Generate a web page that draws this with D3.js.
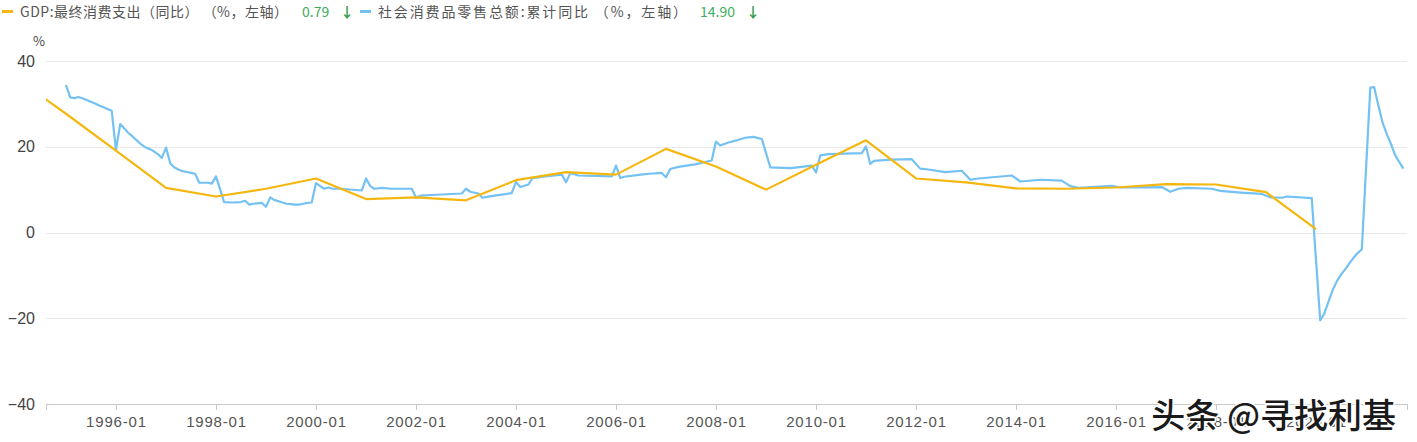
<!DOCTYPE html>
<html>
<head>
<meta charset="utf-8">
<title>GDP最终消费支出 vs 社会消费品零售总额</title>
<style>
  body { margin: 0; background: #fff; }
  svg { display: block; font-family: "Noto Sans CJK SC", "Microsoft YaHei", sans-serif; }
  .grid line { stroke: #e9e9e9; shape-rendering: crispEdges; }
  .axis--x path, .axis--x line { stroke: #c8c8c8; shape-rendering: crispEdges; }
  .axis text { fill: #555; }
  .axis--y path, .axis--y line { display: none; }
  .legend text { font-size: 14px; fill: #555; }
</style>
</head>
<body>
<svg width="1417" height="442"></svg>
<script src="https://cdn.jsdelivr.net/npm/d3@7"></script>
<script>
// annual GDP final consumption expenditure, YoY %
var gdpYears = [1994, 1995, 1996, 1997, 1998, 1999, 2000, 2001, 2002, 2003, 2004, 2005, 2006, 2007,
  2008, 2009, 2010, 2011, 2012, 2013, 2014, 2015, 2016, 2017, 2018, 2019, 2020];
var gdpValues = [36.0, 27.7, 19.1, 10.4, 8.4, 10.2, 12.6, 7.8, 8.2, 7.5, 12.2, 14.1, 13.5, 19.5,
  15.4, 10.0, 15.8, 21.5, 12.6, 11.7, 10.3, 10.2, 10.5, 11.3, 11.2, 9.4, 0.79];

// retail sales, cumulative YoY %
var retailDates = ["1995-01", "1995-02", "1995-03", "1995-04", "1995-05", "1995-06", "1995-07", "1995-08",
  "1995-09", "1995-10", "1995-12", "1996-01", "1996-02", "1996-03", "1996-04", "1996-05", "1996-06",
  "1996-07", "1996-08", "1996-09", "1996-10", "1996-11", "1996-12", "1997-01", "1997-02", "1997-03",
  "1997-04", "1997-05", "1997-06", "1997-07", "1997-08", "1997-09", "1997-10", "1997-11", "1997-12",
  "1998-01", "1998-03", "1998-05", "1998-07", "1998-08", "1998-09", "1998-10", "1998-11", "1998-12",
  "1999-01", "1999-02", "1999-03", "1999-05", "1999-06", "1999-07", "1999-08", "1999-09", "1999-10",
  "1999-11", "1999-12", "2000-01", "2000-02", "2000-03", "2000-04", "2000-05", "2000-07", "2000-12",
  "2001-01", "2001-02", "2001-03", "2001-05", "2001-07", "2001-12", "2002-01", "2002-02", "2002-06",
  "2002-12", "2003-01", "2003-02", "2003-04", "2003-05", "2003-06", "2003-12", "2004-01", "2004-02",
  "2004-04", "2004-05", "2004-08", "2004-12", "2005-01", "2005-02", "2005-04", "2005-12", "2006-01",
  "2006-02", "2006-03", "2006-07", "2006-09", "2006-12", "2007-01", "2007-02", "2007-04", "2007-08",
  "2007-12", "2008-01", "2008-02", "2008-04", "2008-06", "2008-08", "2008-10", "2008-12", "2009-02",
  "2009-07", "2009-12", "2010-01", "2010-02", "2010-04", "2010-12", "2011-01", "2011-02", "2011-03",
  "2011-07", "2011-12", "2012-02", "2012-04", "2012-08", "2012-12", "2013-02", "2013-04", "2013-12",
  "2014-02", "2014-07", "2014-12", "2015-02", "2015-04", "2015-12", "2016-02", "2016-12", "2017-02",
  "2017-04", "2017-06", "2017-12", "2018-02", "2018-07", "2018-12", "2019-02", "2019-05", "2019-06",
  "2019-12", "2020-02", "2020-03", "2020-04", "2020-05", "2020-06", "2020-07", "2020-08", "2020-09",
  "2020-10", "2020-11", "2020-12", "2021-02", "2021-03", "2021-04", "2021-05", "2021-06", "2021-07",
  "2021-08", "2021-09", "2021-10"];
var retailValues = [34.4, 31.5, 31.3, 31.6, 31.3, 30.9, 30.5, 30.1,
  29.6, 29.2, 28.4, 19.2, 25.3, 24.3, 23.2, 22.4, 21.5,
  20.6, 19.9, 19.5, 19.0, 18.3, 17.4, 19.8, 16.1, 15.2,
  14.7, 14.3, 14.1, 13.9, 13.7, 11.6, 11.6, 11.6, 11.4,
  13.1, 7.1, 7.0, 7.1, 7.4, 6.5, 6.7, 6.8, 6.9,
  6.0, 8.2, 7.6, 7.0, 6.7, 6.6, 6.5, 6.5, 6.7,
  6.9, 7.0, 11.5, 10.8, 10.2, 10.5, 10.2, 10.2, 9.8,
  12.6, 10.8, 10.2, 10.4, 10.2, 10.2, 8.1, 8.6, 8.8,
  9.1, 10.2, 9.5, 9.1, 8.1, 8.3, 9.2, 11.8, 10.6,
  11.2, 12.7, 13.1, 13.5, 11.7, 13.9, 13.3, 13.1, 15.6,
  12.7, 13.0, 13.5, 13.7, 13.9, 12.9, 14.8, 15.3, 15.9,
  16.8, 21.2, 20.3, 21.0, 21.5, 22.1, 22.3, 21.8, 15.2,
  15.0, 15.6, 14.0, 18.0, 18.3, 18.5, 20.1, 16.0, 16.7,
  17.0, 17.1, 14.9, 14.7, 14.1, 14.4, 12.3, 12.6, 13.3,
  11.9, 12.3, 12.1, 10.8, 10.4, 10.9, 10.5, 10.6, 9.5,
  10.2, 10.4, 10.2, 9.7, 9.3, 9.0, 8.2, 8.1, 8.4,
  8.0, -20.5, -19.0, -16.2, -13.5, -11.4, -9.9, -8.6, -7.2,
  -5.9, -4.8, -3.9, 33.8, 33.9, 29.6, 25.7, 23.0, 20.7,
  18.1, 16.4, 14.9];

var yTicks = [-40, -20, 0, 20, 40];
var seriesNames = ["GDP:最终消费支出（同比） （%，左轴）", "社会消费品零售总额:累计同比 （%，左轴）"];
var latestLabels = ["0.79", "14.90"];

(function() {
  var svg = d3.select("svg"),
      plotLeft = 46, plotRight = 1407, plotTop = 61, plotBottom = 404;

  var parseMonth = d3.timeParse("%Y-%m");
  var gdp = gdpYears.map(function(yr, i) { return { date: new Date(yr, 0, 1), value: gdpValues[i] }; });
  var retail = retailDates.map(function(d, i) { return { date: parseMonth(d), value: retailValues[i] }; });

  var x = d3.scaleTime()
      .domain([new Date(1994, 7, 8), new Date(2021, 9, 27)])
      .range([plotLeft, plotRight]);

  var y = d3.scaleLinear()
      .domain([-40, 40])
      .range([plotBottom, plotTop]);

  var colors = ["#f5b70f", "#74c1f3"];

  // grid lines
  svg.append("g")
      .attr("class", "grid")
    .selectAll("line")
    .data(yTicks.filter(function(d) { return d > -40; }))
    .enter().append("line")
      .attr("x1", plotLeft)
      .attr("x2", plotRight)
      .attr("y1", function(d) { return Math.round(y(d)) + 0.5; })
      .attr("y2", function(d) { return Math.round(y(d)) + 0.5; });

  // x axis
  svg.append("g")
      .attr("class", "axis axis--x")
      .attr("transform", "translate(0," + plotBottom + ")")
      .call(d3.axisBottom(x)
        .ticks(d3.timeYear.every(2))
        .tickFormat(d3.timeFormat("%Y-%m"))
        .tickSizeOuter(0)
        .tickSize(6)
        .tickPadding(6))
      .call(function(g) {
        g.selectAll("text")
          .attr("font-size", 15)
          .attr("font-family", null)
          .style("letter-spacing", "0.8px");
      });

  // y axis
  svg.append("g")
      .attr("class", "axis axis--y")
      .attr("transform", "translate(" + plotLeft + ",0)")
      .call(d3.axisLeft(y).tickValues(yTicks).tickSize(0).tickPadding(11))
      .call(function(g) { g.selectAll("text").attr("font-size", 16).attr("font-family", null).style("fill", "#444"); });

  svg.append("text")
      .attr("x", 39)
      .attr("y", 46)
      .attr("text-anchor", "middle")
      .attr("font-size", 13)
      .attr("fill", "#444")
      .text("%");

  svg.append("clipPath")
      .attr("id", "plot-clip")
    .append("rect")
      .attr("x", plotLeft)
      .attr("y", 0)
      .attr("width", plotRight - plotLeft)
      .attr("height", 442);

  var line = d3.line()
      .x(function(d) { return x(d.date); })
      .y(function(d) { return y(d.value); });

  svg.append("path")
      .datum(retail)
      .attr("clip-path", "url(#plot-clip)")
      .attr("fill", "none")
      .attr("stroke", colors[1])
      .attr("stroke-width", 2.2)
      .attr("stroke-linejoin", "round")
      .attr("d", line);

  svg.append("path")
      .datum(gdp)
      .attr("clip-path", "url(#plot-clip)")
      .attr("fill", "none")
      .attr("stroke", colors[0])
      .attr("stroke-width", 2.2)
      .attr("stroke-linejoin", "round")
      .attr("d", line);

  // legend: swatch, name, latest value and arrow
  var legendX = [2, 360];
  var nameWidth = [268, 309];
  var valueX = [300, 340];
  var arrowX = [338, 386];
  var legend = svg.append("g")
      .attr("class", "legend")
    .selectAll("g")
    .data(seriesNames)
    .enter().append("g")
      .attr("transform", function(d, i) { return "translate(" + legendX[i] + ",0)"; });

  legend.append("rect")
      .attr("x", 0)
      .attr("y", 10)
      .attr("width", 11)
      .attr("height", 3)
      .attr("fill", function(d, i) { return colors[i]; });

  legend.append("text")
      .attr("x", 18)
      .attr("y", 17)
      .attr("textLength", function(d, i) { return nameWidth[i]; })
      .attr("lengthAdjust", "spacing")
      .text(function(d) { return d; });

  legend.append("text")
      .attr("x", function(d, i) { return valueX[i]; })
      .attr("y", 17)
      .style("fill", "#3cae5c")
      .text(function(d, i) { return latestLabels[i]; });

  legend.append("text")
      .attr("x", function(d, i) { return arrowX[i]; })
      .attr("y", 17)
      .style("fill", "#2f9e4a")
      .style("font-weight", "bold")
      .text("↓");

  // watermark
  svg.append("text")
      .attr("x", 1396)
      .attr("y", 428)
      .attr("text-anchor", "end")
      .attr("font-size", 34)
      .attr("font-weight", 500)
      .attr("fill", "#1a1a1a")
      .attr("stroke", "#fff")
      .attr("stroke-width", 3)
      .attr("paint-order", "stroke")
      .text("头条 @寻找利基");
})();
</script>
</body>
</html>
